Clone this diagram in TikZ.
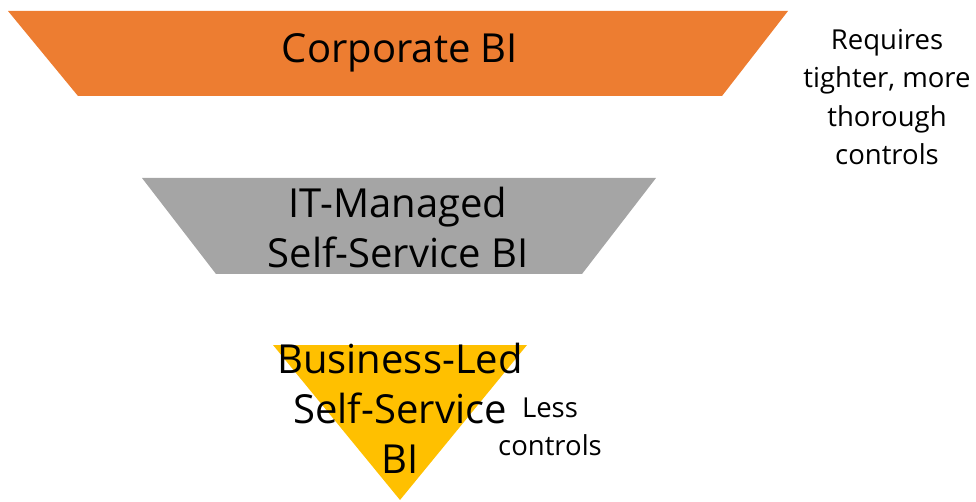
\documentclass[tikz,border=0pt]{standalone}
\usepackage{fontspec}
\setmainfont{Open Sans}
\definecolor{orng}{HTML}{ED7D31}
\definecolor{gry}{HTML}{A5A5A5}
\definecolor{yel}{HTML}{FFC000}
\begin{document}
\begin{tikzpicture}[x=1pt,y=-1pt,
  big/.style={font=\fontsize{40}{50}\selectfont,align=center,text=black,inner sep=0pt},
  small/.style={font=\fontsize{27.5}{38.5}\selectfont,align=center,text=black,inner sep=0pt}]
\useasboundingbox (0,0) rectangle (976,502);
\fill[orng] (8,11) -- (788,11) -- (722,96) -- (78,96) -- cycle;
\fill[gry] (142,178) -- (656,178) -- (582,274) -- (216,274) -- cycle;
\fill[yel] (273,345) -- (527,345) -- (400,500) -- cycle;
\node[big] (corp) at (400,53) {Corporate BI};
\node[big] (itm) at (398,228) {IT-Managed\\Self-Service BI};
\node[big] (bus) at (400,408) {Business-Led\\Self-Service\\BI};
\node[small] (less) at (550,427) {Less\\controls};
\node[small] (req) at (887,97) {Requires\\tighter, more\\thorough\\controls};
\end{tikzpicture}
\end{document}
